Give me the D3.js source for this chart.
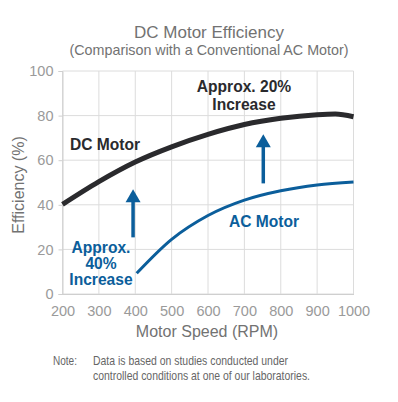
<!DOCTYPE html>
<html>
<head>
<meta charset="utf-8">
<script src="https://cdn.jsdelivr.net/npm/d3@7"></script>
<style>
  body { margin: 0; background: #fff; }
  svg { display: block; font-family: "Liberation Sans", Arial, sans-serif; }
</style>
</head>
<body>
<section></section>
<script>
// datos
var dcRpm = [200, 300, 400, 500, 600, 700, 800, 900, 950, 1000]
var dcEff = [40.2, 50.4, 59.2, 66, 71.6, 76, 78.8, 80.4, 80.7, 79.5]
var acRpm = [404, 500, 600, 700, 800, 900, 1000]
var acEff = [9.3, 24.5, 35.2, 42.1, 46.3, 48.9, 50.2]
var xTicks = [200, 300, 400, 500, 600, 700, 800, 900, 1000]
var yTicks = [0, 20, 40, 60, 80, 100]
// flechas: rpm, desde, hasta
var arrowRpm = [394, 752]
var arrowFrom = [25.4, 49.6]
var arrowTo = [47, 71.6]

var width = 398
var height = 402
var margin = { top: 71, bottom: 108, left: 62.5, right: 44.5 }

var grisTexto = "#727272"
var grisTick = "#9a9a9a"
var colorDC = "#2a2a2d"
var colorAC = "#0b5e9b"

var svg = d3.select("section")
    .append("svg")
    .attr("width", width)
    .attr("height", height)

var x = d3.scaleLinear()
    .domain([200, 1000])
    .range([margin.left, width - margin.right])

var y = d3.scaleLinear()
    .domain([0, 100])
    .range([height - margin.bottom, margin.top])

// rejilla
svg.append("g")
    .selectAll("line")
    .data(xTicks)
    .join("line")
    .attr("x1", d => x(d)).attr("x2", d => x(d))
    .attr("y1", y(0)).attr("y2", y(100))
    .attr("stroke", "#dcdcdc")
    .attr("stroke-width", 1)

svg.append("g")
    .selectAll("line")
    .data(yTicks)
    .join("line")
    .attr("x1", x(200)).attr("x2", x(1000))
    .attr("y1", d => y(d)).attr("y2", d => y(d))
    .attr("stroke", "#dcdcdc")
    .attr("stroke-width", 1)

// ejes
var ejeX = d3.axisBottom(x).tickValues(xTicks).tickFormat(d3.format("d")).tickSize(0).tickPadding(12)
var ejeY = d3.axisLeft(y).tickValues(yTicks).tickSize(4).tickPadding(5)

var gx = svg.append("g")
    .attr("transform", "translate(0," + y(0) + ")")
    .call(ejeX)
gx.select(".domain").attr("stroke", "#cfcfcf")
gx.selectAll("text").attr("fill", grisTick).attr("font-size", 14.5)
    .attr("font-family", "Liberation Sans, Arial, sans-serif")

var gy = svg.append("g")
    .attr("transform", "translate(" + x(200) + ",0)")
    .call(ejeY)
gy.select(".domain").attr("stroke", "#cfcfcf")
gy.selectAll("line").attr("stroke", "#cfcfcf")
gy.selectAll("text").attr("fill", grisTick).attr("font-size", 14.5)
    .attr("font-family", "Liberation Sans, Arial, sans-serif")

// curvas
var dcDatos = dcRpm.map((d, i) => [d, dcEff[i]])
var acDatos = acRpm.map((d, i) => [d, acEff[i]])

var linea = d3.line()
    .x(d => x(d[0]))
    .y(d => y(d[1]))
    .curve(d3.curveMonotoneX)

svg.append("path")
    .attr("d", linea(dcDatos))
    .attr("fill", "none")
    .attr("stroke", colorDC)
    .attr("stroke-width", 5)

svg.append("path")
    .attr("d", linea(acDatos))
    .attr("fill", "none")
    .attr("stroke", colorAC)
    .attr("stroke-width", 3)

// flechas
arrowRpm.forEach(function (r, i) {
    var ax = x(r)
    var y0 = y(arrowFrom[i])
    var y1 = y(arrowTo[i])
    svg.append("line")
        .attr("x1", ax).attr("x2", ax)
        .attr("y1", y0).attr("y2", y1 + 10)
        .attr("stroke", colorAC)
        .attr("stroke-width", 3.5)
    svg.append("path")
        .attr("d", "M" + ax + "," + y1 + "L" + (ax + 7.5) + "," + (y1 + 13) + "L" + (ax - 7.5) + "," + (y1 + 13) + "Z")
        .attr("fill", colorAC)
})

// textos
function texto(t, tx, ty, size, color, peso, anchor) {
    return svg.append("text")
        .attr("x", tx).attr("y", ty)
        .attr("font-size", size)
        .attr("fill", color)
        .attr("font-weight", peso)
        .attr("text-anchor", anchor)
        .text(t)
}

texto("DC Motor Efficiency", 209, 38, 17, grisTexto, "normal", "middle")
texto("(Comparison with a Conventional AC Motor)", 209, 55, 14.3, grisTexto, "normal", "middle")

texto("DC Motor", 70, 150, 15.6, colorDC, "bold", "start")
texto("Approx. 20%", 244, 92, 15.6, colorDC, "bold", "middle")
texto("Increase", 244, 110, 15.6, colorDC, "bold", "middle")

texto("AC Motor", 229, 227, 15.6, colorAC, "bold", "start")
texto("Approx.", 101, 253, 15.6, colorAC, "bold", "middle")
texto("40%", 101, 269, 15.6, colorAC, "bold", "middle")
texto("Increase", 101, 285, 15.6, colorAC, "bold", "middle")

texto("Motor Speed (RPM)", 207, 337, 16, grisTexto, "normal", "middle")
svg.append("text")
    .attr("transform", "translate(24,185) rotate(-90)")
    .attr("font-size", 16)
    .attr("fill", grisTexto)
    .attr("text-anchor", "middle")
    .text("Efficiency (%)")

// nota (letra estrecha)
var nota = svg.append("g")
    .attr("font-size", 13)
    .attr("fill", "#666")
nota.append("text").attr("x", 53).attr("y", 365)
    .attr("textLength", 24).attr("lengthAdjust", "spacingAndGlyphs").text("Note:")
nota.append("text").attr("x", 93).attr("y", 365)
    .attr("textLength", 195).attr("lengthAdjust", "spacingAndGlyphs")
    .text("Data is based on studies conducted under")
nota.append("text").attr("x", 93).attr("y", 380)
    .attr("textLength", 217).attr("lengthAdjust", "spacingAndGlyphs")
    .text("controlled conditions at one of our laboratories.")
</script>
</body>
</html>
